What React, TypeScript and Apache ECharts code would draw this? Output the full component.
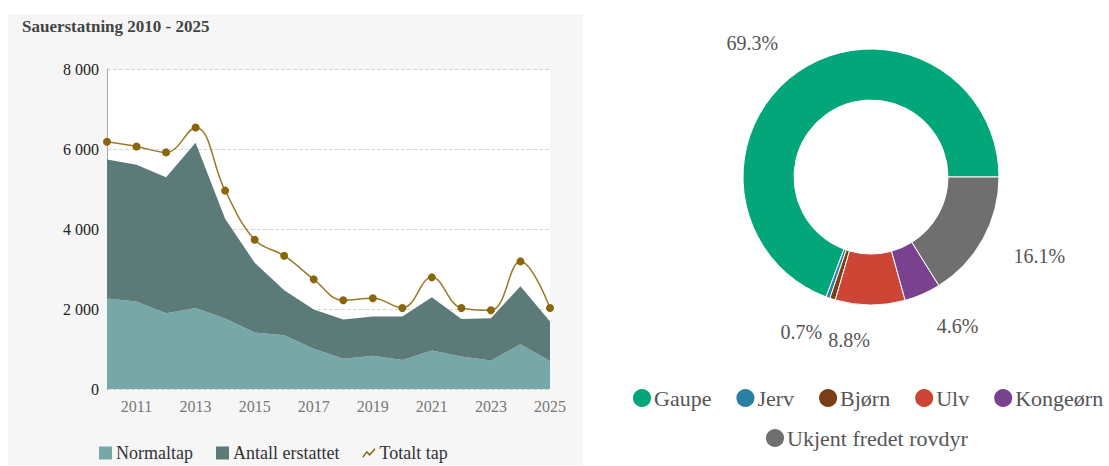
import React, { useEffect, useRef } from "react";
import * as echarts from "echarts";

const years = ["2010","2011","2012","2013","2014","2015","2016","2017","2018","2019","2020","2021","2022","2023","2024","2025"];
const normaltap = [2260, 2185, 1894, 2027, 1761, 1412, 1346, 1005, 756, 831, 723, 964, 814, 714, 1121, 698];
const antallErstattet = [3480, 3422, 3397, 4129, 2493, 1745, 1121, 981, 981, 980, 1088, 1329, 939, 1056, 1446, 989];
const totaltTap = [6181, 6064, 5915, 6538, 4960, 3730, 3332, 2741, 2218, 2268, 2027, 2791, 2027, 1969, 3190, 2027];

const pieNames = ["Gaupe", "Jerv", "Bjørn", "Ulv", "Kongeørn", "Ukjent fredet rovdyr"];
const pieValues = [69.3, 0.5, 0.7, 8.8, 4.6, 16.1];
const pieColors = ["#03a678", "#2a80a2", "#7a3f14", "#cc4535", "#7a428e", "#6f6f6f"];

const FONT = "'Liberation Serif', serif";

function fmt(v: number): string {
  const s = String(Math.round(v));
  return s.replace(/\B(?=(\d{3})+(?!\d))/g, " ");
}

export default function App() {
  const ref = useRef<HTMLDivElement>(null);
  useEffect(() => {
    document.body.style.margin = "0";
    const chart = echarts.init(ref.current!, undefined, { renderer: "svg" });
    chart.setOption({
      animation: false,
      backgroundColor: "#fff",
      graphic: [
        { type: "rect", z: -10, shape: { x: 8, y: 14, width: 575, height: 451 }, style: { fill: "#f6f6f6" } },
      ],
      title: {
        text: "Sauerstatning 2010 - 2025",
        left: 17, top: 13,
        textStyle: { fontFamily: FONT, fontSize: 17, fontWeight: "bold", color: "#444" },
      },
      grid: {
        left: 107, top: 69, width: 443, height: 320,
        show: true, backgroundColor: "#fff", borderWidth: 0,
      },
      xAxis: {
        type: "category",
        data: years,
        boundaryGap: false,
        axisLine: { show: false },
        axisTick: { show: false },
        axisLabel: {
          interval: (i: number) => i % 2 === 1,
          color: "#777", fontFamily: FONT, fontSize: 16, margin: 9,
        },
      },
      yAxis: {
        type: "value",
        min: 0, max: 8000, interval: 2000,
        axisLine: { show: true, lineStyle: { color: "#aaa", width: 1 } },
        axisLabel: { formatter: (v: number) => fmt(v), color: "#222", fontFamily: FONT, fontSize: 16, margin: 8 },
        splitLine: { lineStyle: { type: "dashed", color: "#d4d4d4" } },
      },
      legend: [
        {
          left: 94, top: 441, padding: [3, 5, 3, 5],
          itemWidth: 13, itemHeight: 13, itemGap: 23,
          data: [
            { name: "Normaltap", icon: "rect" },
            { name: "Antall erstattet", icon: "rect" },
            { name: "Totalt tap", icon: "path://M0,14 L6,6 L10,10 L17,2 L18,4 L10,13 L6,9 L1,16 Z" },
          ],
          textStyle: { fontFamily: FONT, fontSize: 18, lineHeight: 18, color: "#333", padding: [0, 0, 0, -1] },
        },
        {
          left: 626, top: 382,
          itemWidth: 20, itemHeight: 20, itemGap: 23,
          icon: "circle",
          data: pieNames.slice(0, 5),
          textStyle: { fontFamily: FONT, fontSize: 22, color: "#555", padding: [0, 0, 0, -3] },
        },
        {
          left: 759, top: 422,
          itemWidth: 20, itemHeight: 20,
          icon: "circle",
          data: pieNames.slice(5),
          textStyle: { fontFamily: FONT, fontSize: 22, color: "#555", padding: [0, 0, 0, -3] },
        },
      ],
      series: [
        {
          name: "Normaltap", type: "line", stack: "a", data: normaltap,
          symbol: "none", lineStyle: { width: 0 },
          itemStyle: { color: "#77a8a7" },
          areaStyle: { color: "#77a8a7", opacity: 1 },
          z: 2,
        },
        {
          name: "Antall erstattet", type: "line", stack: "a", data: antallErstattet,
          symbol: "none", lineStyle: { width: 0 },
          itemStyle: { color: "#5b7a78" },
          areaStyle: { color: "#5b7a78", opacity: 1 },
          z: 2,
        },
        {
          name: "Totalt tap", type: "line", data: totaltTap,
          smooth: 0.4,
          symbol: "circle", symbolSize: 8,
          lineStyle: { color: "#9a7a28", width: 1.5 },
          itemStyle: { color: "#8a650c" },
          z: 3,
        },
        {
          type: "pie",
          center: [871, 177],
          radius: [77, 128],
          startAngle: 0,
          clockwise: false,
          avoidLabelOverlap: false,
          itemStyle: { borderColor: "#fff", borderWidth: 1 },
          label: {
            show: true, position: "outside",
            formatter: (p: any) => p.value.toFixed(1) + "%",
            fontFamily: FONT, fontSize: 20, color: "#555",
            distanceToLabelLine: 0,
          },
          labelLine: { show: false, length: 35, length2: 0 },
          data: pieNames.map((n, i) => ({
            name: n, value: pieValues[i],
            itemStyle: { color: pieColors[i] },
            label: i === 1 ? { show: false } : undefined,
          })),
        },
      ],
    });
    return () => chart.dispose();
  }, []);
  return <div ref={ref} style={{ width: 1109, height: 466 }} />;
}
